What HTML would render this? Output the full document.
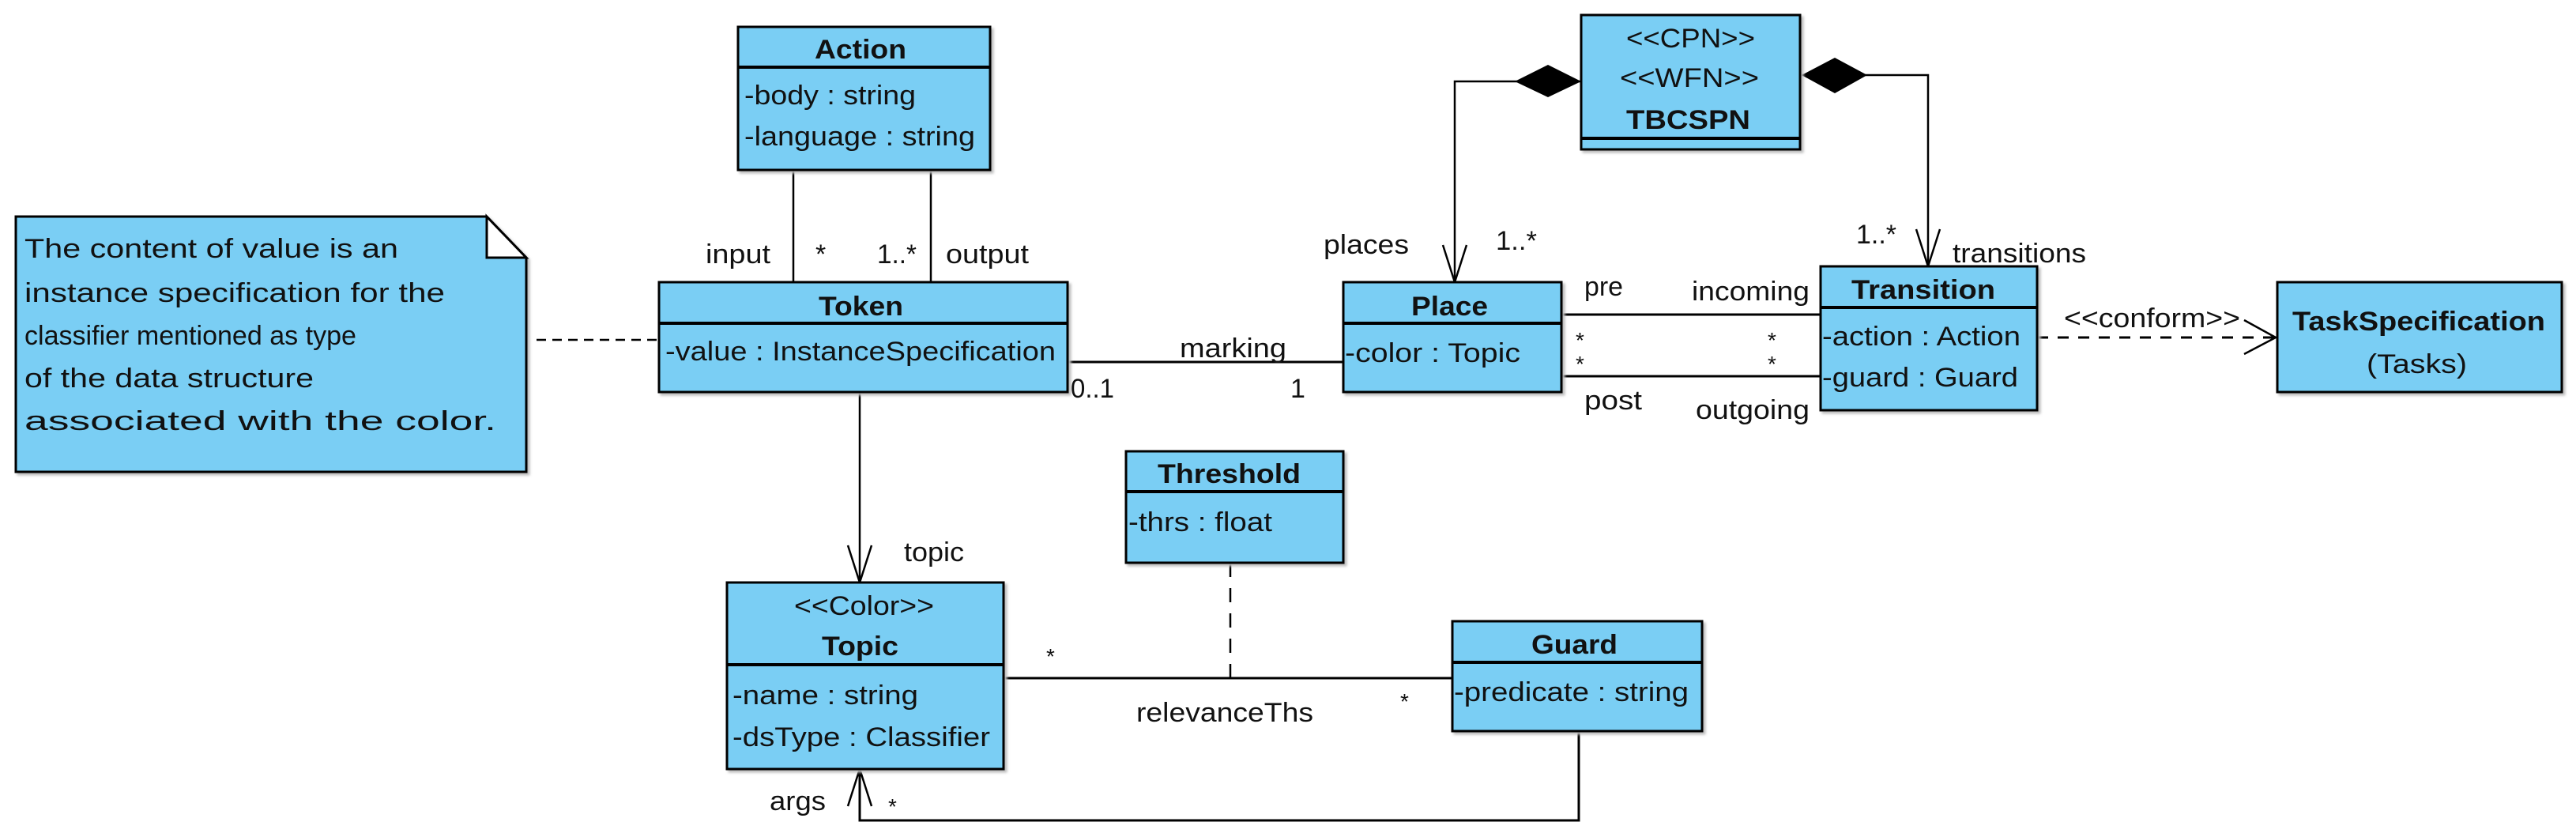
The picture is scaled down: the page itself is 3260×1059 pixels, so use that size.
<!DOCTYPE html>
<html><head><meta charset="utf-8"><style>
html,body{margin:0;padding:0;background:#fff;}
svg{display:block;}
text{font-family:"Liberation Sans",Arial,sans-serif;font-size:34px;fill:#111;}
.b{font-weight:bold;}
.box{fill:#7ACEF4;stroke:#000;stroke-width:3;}
.ln{stroke:#000;stroke-width:2.5;fill:none;}
.sep{stroke:#000;stroke-width:4;}
</style></head><body>
<svg width="3260" height="1059" viewBox="0 0 3260 1059" xmlns="http://www.w3.org/2000/svg">
<defs><filter id="sh"><feDropShadow dx="3" dy="3" stdDeviation="1.5" flood-color="#bbb"/></filter></defs>

<!-- connectors -->
<line class="ln" x1="1004" y1="215" x2="1004" y2="357"/>
<line class="ln" x1="1178" y1="215" x2="1178" y2="357"/>
<line class="ln" x1="679" y1="430" x2="834" y2="430" stroke-dasharray="12,8"/>
<line class="ln" x1="1351" y1="458" x2="1700" y2="458" style="stroke-width:3"/>
<line class="ln" x1="1088" y1="496" x2="1088" y2="737"/>
<polyline class="ln" points="1073,690 1088,737 1103,690"/>
<polyline class="ln" points="2001,103 1841,103 1841,357"/>
<polyline class="ln" points="1826,310 1841,357 1856,310"/>
<polygon points="1917,103 1959,82 2001,103 1959,123" fill="#000"/>
<polyline class="ln" points="2280,95 2440,95 2440,337"/>
<polyline class="ln" points="2425,290 2440,337 2455,290"/>
<polygon points="2280,95 2322,73 2363,95 2322,118" fill="#000"/>
<line class="ln" x1="1976" y1="398" x2="2304" y2="398" style="stroke-width:3"/>
<line class="ln" x1="1976" y1="476" x2="2304" y2="476" style="stroke-width:3"/>
<line class="ln" x1="2578" y1="427" x2="2880" y2="427" stroke-dasharray="14,12" style="stroke-width:3"/>
<polyline class="ln" points="2840,405 2880,427 2840,448"/>
<line class="ln" x1="1270" y1="858" x2="1838" y2="858" style="stroke-width:3"/>
<line class="ln" x1="1557" y1="712" x2="1557" y2="858" stroke-dasharray="18,14"/>
<polyline class="ln" points="1998,925 1998,1038 1088,1038 1088,973" style="stroke-width:3"/>
<polyline class="ln" points="1073,1020 1088,973 1103,1020"/>

<!-- Note -->
<path d="M20,274 L616,274 L666,326 L666,597 L20,597 Z" class="box" filter="url(#sh)"/>
<polyline points="616,274 616,326 666,326" class="ln" style="stroke-width:3;fill:#fff"/>
<path d="M616,274 L666,326 L616,326 Z" fill="#fff" stroke="#000" stroke-width="3"/>
<text x="31" y="326" textLength="473" lengthAdjust="spacingAndGlyphs">The content of value is an</text>
<text x="31" y="382" textLength="532" lengthAdjust="spacingAndGlyphs">instance specification for the</text>
<text x="31" y="436" textLength="420" lengthAdjust="spacingAndGlyphs">classifier mentioned as type</text>
<text x="31" y="490" textLength="366" lengthAdjust="spacingAndGlyphs">of the data structure</text>
<text x="31" y="544" textLength="597" lengthAdjust="spacingAndGlyphs">associated with the color.</text>

<!-- Action -->
<rect x="934" y="34" width="319" height="181" class="box" filter="url(#sh)"/>
<line class="sep" x1="934" y1="85" x2="1253" y2="85"/>
<text class="b" x="1031" y="74" textLength="116" lengthAdjust="spacingAndGlyphs">Action</text>
<text x="942" y="132" textLength="217" lengthAdjust="spacingAndGlyphs">-body : string</text>
<text x="942" y="184" textLength="292" lengthAdjust="spacingAndGlyphs">-language : string</text>

<!-- Token -->
<rect x="834" y="357" width="517" height="139" class="box" filter="url(#sh)"/>
<line class="sep" x1="834" y1="409" x2="1351" y2="409"/>
<text class="b" x="1036" y="399" textLength="107" lengthAdjust="spacingAndGlyphs">Token</text>
<text x="842" y="456" textLength="494" lengthAdjust="spacingAndGlyphs">-value : InstanceSpecification</text>

<!-- TBCSPN -->
<rect x="2001" y="19" width="277" height="170" class="box" filter="url(#sh)"/>
<line class="sep" x1="2001" y1="175" x2="2278" y2="175"/>
<text x="2058" y="60" textLength="163" lengthAdjust="spacingAndGlyphs">&lt;&lt;CPN&gt;&gt;</text>
<text x="2050" y="110" textLength="176" lengthAdjust="spacingAndGlyphs">&lt;&lt;WFN&gt;&gt;</text>
<text class="b" x="2058" y="163" textLength="157" lengthAdjust="spacingAndGlyphs">TBCSPN</text>

<!-- Place -->
<rect x="1700" y="357" width="276" height="139" class="box" filter="url(#sh)"/>
<line class="sep" x1="1700" y1="409" x2="1976" y2="409"/>
<text class="b" x="1786" y="399" textLength="97" lengthAdjust="spacingAndGlyphs">Place</text>
<text x="1702" y="458" textLength="222" lengthAdjust="spacingAndGlyphs">-color : Topic</text>

<!-- Transition -->
<rect x="2304" y="337" width="274" height="182" class="box" filter="url(#sh)"/>
<line class="sep" x1="2304" y1="389" x2="2578" y2="389"/>
<text class="b" x="2343" y="378" textLength="182" lengthAdjust="spacingAndGlyphs">Transition</text>
<text x="2306" y="437" textLength="251" lengthAdjust="spacingAndGlyphs">-action : Action</text>
<text x="2306" y="489" textLength="248" lengthAdjust="spacingAndGlyphs">-guard : Guard</text>

<!-- TaskSpecification -->
<rect x="2882" y="357" width="360" height="139" class="box" filter="url(#sh)"/>
<text class="b" x="2901" y="418" textLength="320" lengthAdjust="spacingAndGlyphs">TaskSpecification</text>
<text x="2995" y="472" textLength="127" lengthAdjust="spacingAndGlyphs">(Tasks)</text>

<!-- Threshold -->
<rect x="1425" y="571" width="275" height="141" class="box" filter="url(#sh)"/>
<line class="sep" x1="1425" y1="622" x2="1700" y2="622"/>
<text class="b" x="1465" y="611" textLength="181" lengthAdjust="spacingAndGlyphs">Threshold</text>
<text x="1428" y="672" textLength="182" lengthAdjust="spacingAndGlyphs">-thrs : float</text>

<!-- Topic -->
<rect x="920" y="737" width="350" height="236" class="box" filter="url(#sh)"/>
<line class="sep" x1="920" y1="841" x2="1270" y2="841"/>
<text x="1005" y="778" textLength="177" lengthAdjust="spacingAndGlyphs">&lt;&lt;Color&gt;&gt;</text>
<text class="b" x="1040" y="829" textLength="97" lengthAdjust="spacingAndGlyphs">Topic</text>
<text x="927" y="891" textLength="235" lengthAdjust="spacingAndGlyphs">-name : string</text>
<text x="927" y="944" textLength="326" lengthAdjust="spacingAndGlyphs">-dsType : Classifier</text>

<!-- Guard -->
<rect x="1838" y="786" width="316" height="139" class="box" filter="url(#sh)"/>
<line class="sep" x1="1838" y1="838" x2="2154" y2="838"/>
<text class="b" x="1938" y="827" textLength="109" lengthAdjust="spacingAndGlyphs">Guard</text>
<text x="1840" y="887" textLength="297" lengthAdjust="spacingAndGlyphs">-predicate : string</text>

<!-- labels -->
<text x="893" y="333" textLength="82" lengthAdjust="spacingAndGlyphs">input</text>
<text x="1032" y="333">*</text>
<text x="1110" y="333" textLength="50" lengthAdjust="spacingAndGlyphs">1..*</text>
<text x="1197" y="333" textLength="105" lengthAdjust="spacingAndGlyphs">output</text>
<text x="1493" y="452" textLength="135" lengthAdjust="spacingAndGlyphs">marking</text>
<text x="1355" y="503" textLength="55" lengthAdjust="spacingAndGlyphs">0..1</text>
<text x="1633" y="503">1</text>
<text x="1675" y="321" textLength="108" lengthAdjust="spacingAndGlyphs">places</text>
<text x="1893" y="316" textLength="52" lengthAdjust="spacingAndGlyphs">1..*</text>
<text x="2349" y="308" textLength="51" lengthAdjust="spacingAndGlyphs">1..*</text>
<text x="2471" y="332" textLength="169" lengthAdjust="spacingAndGlyphs">transitions</text>
<text x="2005" y="374" textLength="49" lengthAdjust="spacingAndGlyphs">pre</text>
<text x="2141" y="380" textLength="149" lengthAdjust="spacingAndGlyphs">incoming</text>
<text x="1994" y="440" style="font-size:28px">*</text>
<text x="1994" y="470" style="font-size:28px">*</text>
<text x="2237" y="440" style="font-size:28px">*</text>
<text x="2237" y="470" style="font-size:28px">*</text>
<text x="2005" y="518" textLength="73" lengthAdjust="spacingAndGlyphs">post</text>
<text x="2146" y="530" textLength="144" lengthAdjust="spacingAndGlyphs">outgoing</text>
<text x="2612" y="414" textLength="223" lengthAdjust="spacingAndGlyphs">&lt;&lt;conform&gt;&gt;</text>
<text x="1144" y="710" textLength="76" lengthAdjust="spacingAndGlyphs">topic</text>
<text x="1324" y="840" style="font-size:28px">*</text>
<text x="1772" y="897" style="font-size:28px">*</text>
<text x="1438" y="913" textLength="224" lengthAdjust="spacingAndGlyphs">relevanceThs</text>
<text x="974" y="1025" textLength="71" lengthAdjust="spacingAndGlyphs">args</text>
<text x="1124" y="1030" style="font-size:28px">*</text>
</svg>
</body></html>
